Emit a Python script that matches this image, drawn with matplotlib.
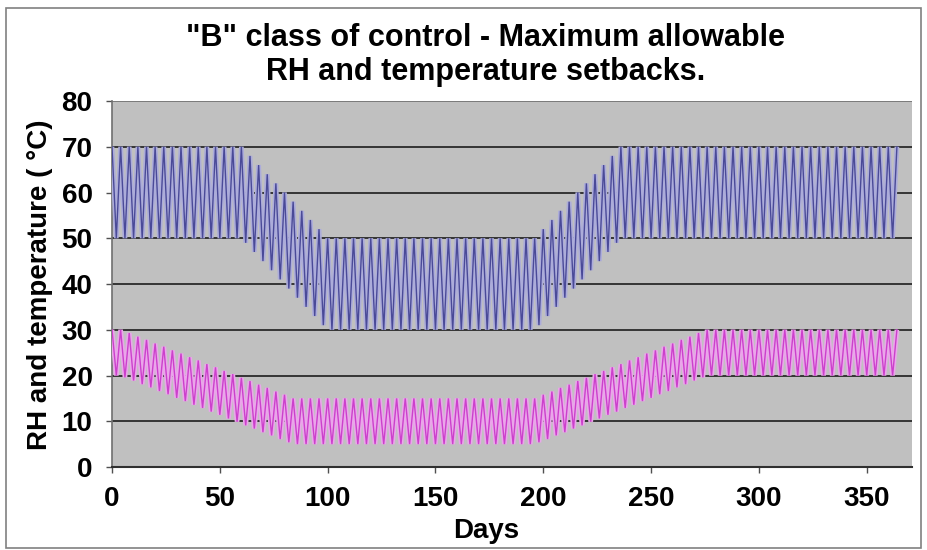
import matplotlib
matplotlib.use("Agg")
import matplotlib.pyplot as plt
from matplotlib.patches import Rectangle

# ---- data (one point every 2 days) ----
days = list(range(0, 366, 2))

rh = [70, 50, 70, 50, 70, 50, 70, 50, 70, 50,
      70, 50, 70, 50, 70, 50, 70, 50, 70, 50,
      70, 50, 70, 50, 70, 50, 70, 50, 70, 50,
      70,
      49, 68, 47, 66, 45, 64, 43, 62, 41, 60,
      39, 58, 37, 56, 35, 54, 33, 52, 31,
      50, 30, 50, 30, 50, 30, 50, 30, 50, 30,
      50, 30, 50, 30, 50, 30, 50, 30, 50, 30,
      50, 30, 50, 30, 50, 30, 50, 30, 50, 30,
      50, 30, 50, 30, 50, 30, 50, 30, 50, 30,
      50, 30, 50, 30, 50, 30, 50, 30,
      50, 31, 52, 33, 54, 35, 56, 37, 58, 39,
      60, 41, 62, 43, 64, 45, 66, 47, 68, 49,
      70, 50, 70, 50, 70, 50, 70, 50, 70, 50,
      70, 50, 70, 50, 70, 50, 70, 50, 70, 50,
      70, 50, 70, 50, 70, 50, 70, 50, 70, 50,
      70, 50, 70, 50, 70, 50, 70, 50, 70, 50,
      70, 50, 70, 50, 70, 50, 70, 50, 70, 50,
      70, 50, 70, 50, 70, 50, 70, 50, 70, 50,
      70, 50, 70, 50, 70]

temp = [30, 20,
        30, 19.6, 29.3, 18.9, 28.5, 18.1, 27.8, 17.4, 27.0, 16.6,
        26.3, 15.9, 25.5, 15.1, 24.8, 14.4, 24.0, 13.6, 23.3, 12.9,
        22.5, 12.1, 21.8, 11.4, 21.0, 10.6, 20.3, 9.9, 19.5, 9.1,
        18.8, 8.4, 18.0, 7.6, 17.3, 6.9, 16.5, 6.1, 15.8, 5.4,
        15,
        5, 15, 5, 15, 5, 15, 5, 15, 5, 15,
        5, 15, 5, 15, 5, 15, 5, 15, 5, 15,
        5, 15, 5, 15, 5, 15, 5, 15, 5, 15,
        5, 15, 5, 15, 5, 15, 5, 15, 5, 15,
        5, 15, 5, 15, 5, 15, 5, 15, 5, 15,
        5, 15, 5, 15, 5,
        15, 5.4, 15.8, 6.1, 16.5, 6.9, 17.3, 7.6, 18.0, 8.4,
        18.8, 9.1, 19.5, 9.9, 20.3, 10.6, 21.0, 11.4, 21.8, 12.1,
        22.5, 12.9, 23.3, 13.6, 24.0, 14.4, 24.8, 15.1, 25.5, 15.9,
        26.3, 16.6, 27.0, 17.4, 27.8, 18.1, 28.5, 18.9, 29.3, 19.6,
        30,
        20, 30, 20, 30, 20, 30, 20, 30, 20, 30,
        20, 30, 20, 30, 20, 30, 20, 30, 20, 30,
        20, 30, 20, 30, 20, 30, 20, 30, 20, 30,
        20, 30, 20, 30, 20, 30, 20, 30, 20, 30,
        20, 30, 20, 30]

xticks = [0, 50, 100, 150, 200, 250, 300, 350]
yticks = [0, 10, 20, 30, 40, 50, 60, 70, 80]

title = '"B" class of control - Maximum allowable\nRH and temperature setbacks.'
xlabel = "Days"
ylabel = "RH and temperature ( \u00b0C)"

# ---- figure ----
plt.rcParams['font.family'] = ['Liberation Sans', 'DejaVu Sans']
fig = plt.figure(figsize=(9.28, 5.5), dpi=100)
fig.patch.set_facecolor("white")

ax = fig.add_axes([112/928, 1-467/550, (912-112)/928, (467-101)/550])
ax.set_facecolor("#c0c0c0")

# soft halo + darker core to imitate the dense, blurred trace of the original
ax.plot(days, rh, color="#acacda", lw=3.4, solid_joinstyle="bevel",
        solid_capstyle="butt", zorder=3)
ax.plot(days, rh, color="#4a4a98", lw=1.0, solid_joinstyle="bevel", zorder=4)
ax.plot(days, temp, color="#eaa6ea", lw=3.4, solid_joinstyle="bevel",
        solid_capstyle="butt", zorder=3)
ax.plot(days, temp, color="#cc40cc", lw=1.0, solid_joinstyle="bevel", zorder=4)

ax.set_xlim(0, 371)
ax.set_ylim(0, 80)
ax.set_xticks(xticks)
ax.set_yticks(yticks)
ax.yaxis.grid(True, color="#2a2a2a", lw=1.3)
ax.set_axisbelow(True)

for s in ["top", "right"]:
    ax.spines[s].set_visible(False)
ax.spines["left"].set_color("#707070")
ax.spines["bottom"].set_color("#303030")
ax.spines["left"].set_linewidth(1.2)
ax.spines["bottom"].set_linewidth(1.5)
ax.axhline(80, color="#8a8a8a", lw=1.2, zorder=2)

ax.tick_params(axis="both", direction="out", length=4, width=1, color="#505050",
               labelsize=20)
ax.tick_params(axis="y", pad=10)
ax.tick_params(axis="x", pad=10)
for lab in ax.get_xticklabels() + ax.get_yticklabels():
    lab.set_fontweight("bold")

fig.text(486/928, 1-55/550, title, ha="center", va="center", fontsize=22,
         fontweight="bold", linespacing=1.2)
fig.text(486/928, 1-531/550, xlabel, ha="center", va="center", fontsize=20,
         fontweight="bold")
fig.text(40/928, 1-285/550, ylabel, ha="center", va="center", fontsize=20,
         fontweight="bold", rotation=90)

fig.patches.append(Rectangle((6/928, 2/550), (921-6)/928, (542-2)/550,
                             transform=fig.transFigure, fill=False,
                             edgecolor="#808080", lw=1.2))

fig.savefig("out.png", dpi=100)
